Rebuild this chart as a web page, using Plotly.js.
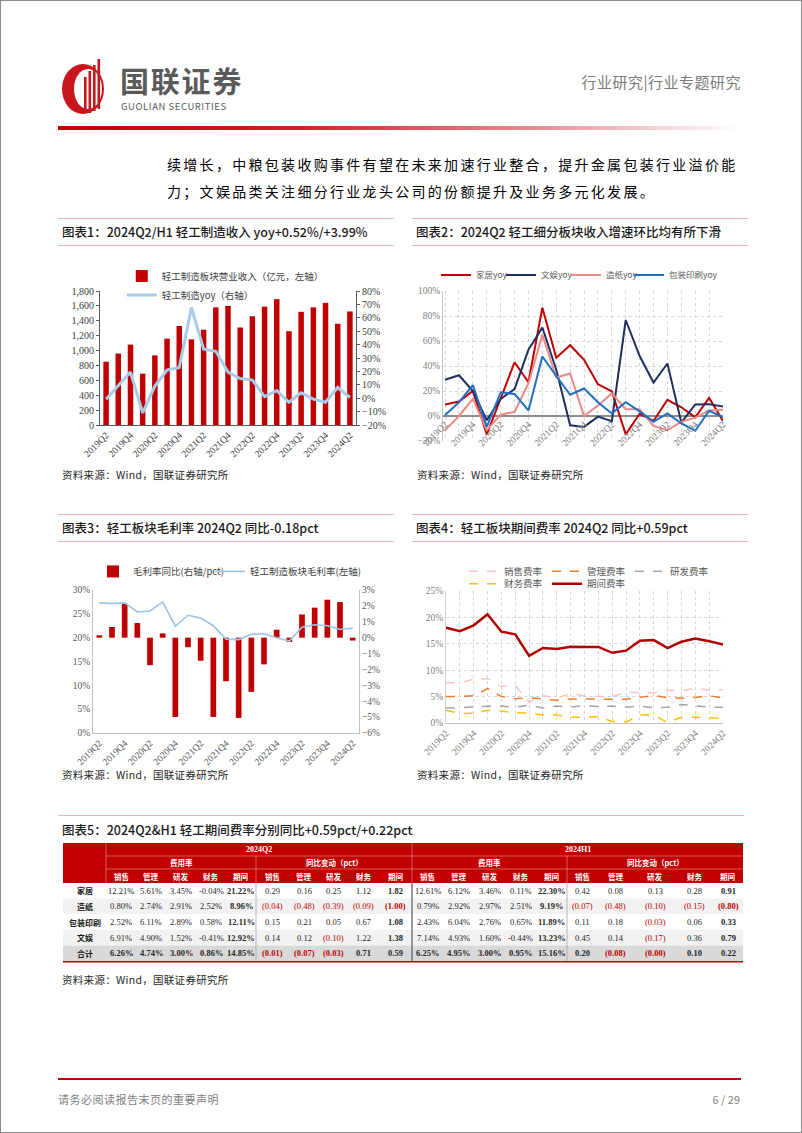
<!DOCTYPE html>
<html><head><meta charset="utf-8">
<script src="https://cdn.plot.ly/plotly-3.0.1.min.js"></script>
<style>
body{margin:0;background:#fff;}
#page{position:relative;width:800px;height:1131px;border:1px solid #8c8c8c;overflow:hidden;font-family:"Noto Sans CJK SC",sans-serif;background:#fff;}
.abs{position:absolute;}
.ctitle{position:absolute;height:26px;line-height:26px;border-top:1.5px solid #E6B3BE;border-bottom:1.5px solid #E6B3BE;font-size:12.5px;font-weight:500;color:#1a1a1a;padding-left:4px;box-sizing:content-box;}
.src{position:absolute;font-size:10.5px;color:#262626;letter-spacing:0.3px;}
</style></head>
<body>
<div id="page">
  <svg class="abs" style="left:56px;top:54px" width="62" height="62" viewBox="0 0 62 62">
    <ellipse cx="26" cy="34" rx="21" ry="25" fill="#C8161D"/>
    <ellipse cx="31" cy="34" rx="14" ry="20" fill="#fff"/>
    <rect x="27" y="22" width="2.6" height="36" fill="#C8161D"/>
    <rect x="31.5" y="16" width="2.6" height="42" fill="#C8161D"/>
    <rect x="36" y="10" width="2.6" height="46" fill="#C8161D"/>
    <rect x="40.5" y="4" width="2.6" height="50" fill="#C8161D"/>
  </svg>
  <div class="abs" style="left:119px;top:65px;font-size:29px;font-weight:700;color:#5a5a5a;letter-spacing:1.8px;line-height:29px;">国联证券</div>
  <div class="abs" style="left:120px;top:100px;font-size:9.5px;line-height:11px;color:#5a5a5a;letter-spacing:0.55px;">GUOLIAN SECURITIES</div>
  <div class="abs" style="right:60px;top:70px;font-size:15px;color:#7a7a7a;letter-spacing:0.5px;">行业研究|行业专题研究</div>
  <div class="abs" style="left:57px;top:125px;width:682px;height:4px;background:linear-gradient(to right,#C00000 0%,#D0202A 35%,#E98C94 70%,#F7DADD 90%,rgba(255,255,255,0) 100%);"></div>
  <div class="abs" style="left:166px;top:150px;font-size:14px;line-height:27px;color:#000;letter-spacing:2.3px;">续增长，中粮包装收购事件有望在未来加速行业整合，提升金属包装行业溢价能<br>力；文娱品类关注细分行业龙头公司的份额提升及业务多元化发展。</div>

  <div class="ctitle" style="left:57px;top:217px;width:332px;">图表1：2024Q2/H1 轻工制造收入 yoy+0.52%/+3.99%</div>
  <div class="ctitle" style="left:411px;top:217px;width:332px;">图表2：2024Q2 轻工细分板块收入增速环比均有所下滑</div>
  <div id="c1" class="abs" style="left:57px;top:249px;"></div>
  <div id="c2" class="abs" style="left:409px;top:249px;"></div>
  <div class="src" style="left:61px;top:466px;">资料来源：Wind，国联证券研究所</div>
  <div class="src" style="left:416px;top:466px;">资料来源：Wind，国联证券研究所</div>

  <div class="ctitle" style="left:57px;top:513px;width:332px;">图表3：轻工板块毛利率 2024Q2 同比-0.18pct</div>
  <div class="ctitle" style="left:411px;top:513px;width:332px;">图表4：轻工板块期间费率 2024Q2 同比+0.59pct</div>
  <div id="c3" class="abs" style="left:57px;top:544px;"></div>
  <div id="c4" class="abs" style="left:409px;top:544px;"></div>
  <div class="src" style="left:61px;top:766px;">资料来源：Wind，国联证券研究所</div>
  <div class="src" style="left:416px;top:766px;">资料来源：Wind，国联证券研究所</div>

  <div class="abs" style="left:57px;top:814px;width:686px;border-top:1.5px solid #E6B3BE;"></div>
  <div class="abs" style="left:61px;top:819px;font-size:12.5px;font-weight:500;color:#1a1a1a;line-height:20px;">图表5：2024Q2&amp;H1 轻工期间费率分别同比+0.59pct/+0.22pct</div>
  <div id="tbl" class="abs" style="left:62px;top:842px;"></div>
  <div class="src" style="left:61px;top:971px;">资料来源：Wind，国联证券研究所</div>

  <div class="abs" style="left:57px;top:1077px;width:683px;height:2px;background:#C00000;"></div>
  <div class="abs" style="left:57px;top:1090px;font-size:11px;color:#7f7f7f;letter-spacing:0.5px;">请务必阅读报告末页的重要声明</div>
  <div class="abs" style="right:61px;top:1090px;font-size:11px;color:#7f7f7f;">6 / 29</div>
</div>
<script>
// ---------- data ----------
const quarters = ['2019Q2','2019Q3','2019Q4','2020Q1','2020Q2','2020Q3','2020Q4','2021Q1','2021Q2','2021Q3','2021Q4','2022Q1','2022Q2','2022Q3','2022Q4','2023Q1','2023Q2','2023Q3','2023Q4','2024Q1','2024Q2'];
// chart 1
const revenue = [850,960,1080,690,935,1160,1330,1150,1280,1580,1600,1310,1460,1590,1690,1260,1520,1580,1640,1360,1525];
const revenueYoy = [-0.7,9,19.5,-11,9,21,23,67.7,36.6,35,19.5,14.7,13.5,1.2,5.7,-3,4,-0.7,-3,8,0.52];
// chart 2
const homeYoy = [9.2,11.6,20,-14.7,14,43,27,86.6,46.6,56.6,45,25.5,19.7,-14.7,1.8,-4,13,7,-1,14.5,-4];
const stationeryYoy = [29,32.6,20,-3.4,13.7,21.6,53,70.8,37,-7.4,-8.7,-0.5,-4.2,76.8,48,26.8,42,-5.3,9.2,9.5,7.6];
const paperYoy = [-11.3,0,13.7,-11.3,1,3.4,26,65,30.8,34,0,8.4,18,5.5,5.5,-8,-11.3,-4.7,-1.3,4.5,5];
const packagingYoy = [0.8,11,24.7,-8.7,19,17.6,4.5,47.6,32,17,22,11,2,11,3.7,-4.7,2,-6,-11.8,4.2,-0.8];
// chart 3
const gmChange = [0.15,0.67,2.14,0.92,-1.73,0.27,-4.99,-0.6,-1.45,-4.99,-2.74,-5.05,-3.41,-1.68,0.5,-0.27,1.46,1.89,2.39,2.24,-0.18];
const grossMargin = [27.3,27.2,27.3,25.4,25.6,27.5,22.4,24.7,24.1,22.5,19.7,19.6,20.7,20.8,20.0,19.3,22.2,22.7,22.5,21.7,22.0];
// chart 4
const salesRate = [7.6,7.6,8.3,8.4,6.9,7.1,3.9,5.2,4.7,5.6,5.1,5.0,5.0,5.8,5.8,5.7,6.2,6.1,6.6,6.2,6.26];
const adminRate = [5.0,5.0,5.15,6.5,5.0,4.6,4.8,4.55,4.3,4.55,4.55,4.6,4.5,4.5,4.9,5.2,4.8,4.7,4.85,5.15,4.74];
const rdRate = [2.85,2.85,3.1,3.2,3.2,3.0,3.4,2.85,3.2,3.0,3.3,3.1,3.2,3.0,3.2,2.9,3.0,3.5,3.2,3.0,3.0];
const finRate = [2.4,1.8,1.85,2.4,2.25,1.95,1.9,1.5,1.5,1.1,1.1,1.2,0.3,0.2,1.5,1.5,0.1,1.1,1.1,1.0,0.86];
const periodRate = [18.07,17.4,18.5,20.6,17.3,16.8,12.7,14.2,14.0,14.45,14.4,14.4,13.3,13.7,15.6,15.7,14.2,15.4,16.0,15.5,14.85];
// table
const tableRows = ['家居','造纸','包装印刷','文娱','合计'];
const expenseItems = ['销售','管理','研发','财务','期间'];
const periods = ['2024Q2','2024H1'];
const blockNames = ['费用率','同比变动（pct）'];
const q2Rate = [[12.21,5.61,3.45,-0.04,21.22],[0.80,2.74,2.91,2.52,8.96],[2.52,6.11,2.89,0.58,12.11],[6.91,4.90,1.52,-0.41,12.92],[6.26,4.74,3.00,0.86,14.85]];
const q2Chg = [[0.29,0.16,0.25,1.12,1.82],[-0.04,-0.48,-0.39,-0.09,-1.00],[0.15,0.21,0.05,0.67,1.08],[0.14,0.12,-0.10,1.22,1.38],[-0.01,-0.07,-0.03,0.71,0.59]];
const h1Rate = [[12.61,6.12,3.46,0.11,22.30],[0.79,2.92,2.97,2.51,9.19],[2.43,6.04,2.76,0.65,11.89],[7.14,4.93,1.60,-0.44,13.23],[6.25,4.95,3.00,0.95,15.16]];
const h1Chg = [[0.42,0.08,0.13,0.28,0.91],[-0.07,-0.48,-0.10,-0.15,-0.80],[0.11,0.18,-0.03,0.06,0.33],[0.45,0.14,-0.17,0.36,0.79],[0.20,-0.08,-0.004,0.10,0.22]];

// ---------- style ----------
const cfg = {staticPlot:true, displayModeBar:false};
const serif = '"Liberation Serif", "Times New Roman", serif';
const cjk = '"Noto Sans CJK SC", sans-serif';
const evenLabels = quarters.map((q,i)=> i%2===0 ? q : '');
const RED = '#C00000';
const base = {paper_bgcolor:'rgba(0,0,0,0)', plot_bgcolor:'rgba(0,0,0,0)'};

// ---------- chart 1 ----------
Plotly.newPlot('c1', [
  {type:'bar', x:quarters, y:revenue, name:'轻工制造板块营业收入（亿元，左轴）', marker:{color:RED}},
  {type:'scatter', mode:'lines', x:quarters, y:revenueYoy, yaxis:'y2', name:'轻工制造yoy（右轴）', line:{color:'#A9CBEA', width:3}}
], Object.assign({}, base, {
  width:342, height:217, margin:{l:42,r:44,t:34,b:42},
  bargap:0.55, showlegend:true,
  xaxis:{type:'category', range:[-0.5,20.5], tickmode:'array', tickvals:quarters, ticktext:evenLabels, tickangle:-45,
    showline:true, linecolor:'#595959', ticks:'', showgrid:false, tickfont:{family:serif,size:9.5,color:'#404040'}},
  yaxis:{range:[0,1800], dtick:200, tickformat:',d', showline:true, linecolor:'#595959', ticks:'outside', ticklen:3, tickcolor:'#595959',
    showgrid:false, zeroline:false, tickfont:{family:serif,size:10,color:'#404040'}},
  yaxis2:{overlaying:'y', side:'right', range:[-20,80], dtick:10, ticksuffix:'%', showline:true, linecolor:'#595959', ticks:'outside', ticklen:3, tickcolor:'#595959',
    showgrid:false, zeroline:false, tickfont:{family:serif,size:10,color:'#404040'}},
  legend:{orientation:'v', x:0.085, xanchor:'left', y:1.22, yanchor:'top', font:{family:cjk,size:9.5,color:'#404040'}, bgcolor:'rgba(0,0,0,0)', itemwidth:30, tracegroupgap:0}
}), cfg);

// ---------- chart 2 ----------
const c2Range = [-20,100];
const c2Legend = {orientation:'h', y:1.1, yanchor:'middle', xanchor:'left', itemwidth:30,
    font:{family:cjk,size:8.5,color:'#595959'}, bgcolor:'rgba(0,0,0,0)'};
Plotly.newPlot('c2', [
  {type:'scatter', mode:'lines', x:quarters, y:homeYoy, name:'家居yoy', legend:'legend', line:{color:'#C00000', width:2}},
  {type:'scatter', mode:'lines', x:quarters, y:stationeryYoy, name:'文娱yoy', legend:'legend3', line:{color:'#1F3060', width:2}},
  {type:'scatter', mode:'lines', x:quarters, y:paperYoy, name:'造纸yoy', legend:'legend4', line:{color:'#EB8A86', width:2}},
  {type:'scatter', mode:'lines', x:quarters, y:packagingYoy, name:'包装印刷yoy', legend:'legend2', line:{color:'#1F6FC5', width:2}}
], Object.assign({}, base, {
  width:342, height:215, margin:{l:33,r:29,t:40,b:24}, showlegend:true,
  xaxis:{type:'category', range:[-0.15,20], tickmode:'array', tickvals:quarters, ticktext:evenLabels, tickangle:-45,
    anchor:'free', position:(0-c2Range[0])/(c2Range[1]-c2Range[0]), showline:false, ticks:'',
    showgrid:true, gridcolor:'#D6D6D6', griddash:'dot', tickfont:{family:serif,size:9.5,color:'#808080'}},
  yaxis:{range:c2Range, dtick:20, ticksuffix:'%', showgrid:true, gridcolor:'#D6D6D6', griddash:'dot',
    zeroline:true, zerolinecolor:'#8C8C8C', zerolinewidth:2, showline:true, linecolor:'#C8C8C8',
    tickfont:{family:serif,size:9.5,color:'#808080'}},
  legend:Object.assign({}, c2Legend, {x:-0.025}),
  legend3:Object.assign({}, c2Legend, {x:0.207}),
  legend4:Object.assign({}, c2Legend, {x:0.439}),
  legend2:Object.assign({}, c2Legend, {x:1.0, xanchor:'right'})
}), cfg);

// ---------- chart 3 ----------
const c3Legend = {orientation:'h', xanchor:'left', y:1.13, yanchor:'middle', itemwidth:30,
    font:{family:cjk,size:9.5,color:'#404040'}, bgcolor:'rgba(0,0,0,0)'};
Plotly.newPlot('c3', [
  {type:'bar', x:quarters, y:gmChange, name:'毛利率同比(右轴/pct)', marker:{color:RED}},
  {type:'scatter', mode:'lines', x:quarters, y:grossMargin, yaxis:'y2', legend:'legend2', name:'轻工制造板块毛利率(左轴)', line:{color:'#9DC3E6', width:1.6}}
], Object.assign({}, base, {
  width:342, height:230, margin:{l:35,r:41,t:32,b:42}, bargap:0.55, showlegend:true,
  xaxis:{type:'category', range:[-0.5,20.5], tickmode:'array', tickvals:quarters, ticktext:evenLabels, tickangle:-45,
    showline:true, linecolor:'#BFBFBF', ticks:'', showgrid:false, tickfont:{family:serif,size:9.5,color:'#595959'}},
  yaxis:{side:'right', range:[-6,3], dtick:1, ticksuffix:'%', showline:true, linecolor:'#BFBFBF', showgrid:false, zeroline:false,
    tickfont:{family:serif,size:9.5,color:'#595959'}},
  yaxis2:{overlaying:'y', side:'left', range:[0,30], dtick:5, ticksuffix:'%', showline:true, linecolor:'#BFBFBF', showgrid:false, zeroline:false,
    tickfont:{family:serif,size:9.5,color:'#595959'}},
  legend:Object.assign({}, c3Legend, {x:0.0}),
  legend2:Object.assign({}, c3Legend, {x:0.44})
}), cfg);

// ---------- chart 4 ----------
Plotly.newPlot('c4', [
  {type:'scatter', mode:'lines', x:quarters, y:salesRate, name:'销售费率', line:{color:'#F6C6C0', width:1.5, dash:'dash'}},
  {type:'scatter', mode:'lines', x:quarters, y:adminRate, name:'管理费率', line:{color:'#ED7D31', width:1.5, dash:'dash'}},
  {type:'scatter', mode:'lines', x:quarters, y:rdRate, name:'研发费率', line:{color:'#A5A5A5', width:1.5, dash:'dash'}},
  {type:'scatter', mode:'lines', x:quarters, y:finRate, name:'财务费率', legend:'legend2', line:{color:'#FFC000', width:1.5, dash:'dash'}},
  {type:'scatter', mode:'lines', x:quarters, y:periodRate, name:'期间费率', legend:'legend2', line:{color:'#B00000', width:2.5}}
], Object.assign({}, base, {
  width:342, height:220, margin:{l:36,r:29,t:38,b:42}, showlegend:true,
  xaxis:{type:'category', range:[0,20], tickmode:'array', tickvals:quarters, ticktext:evenLabels, tickangle:-45,
    showline:true, linecolor:'#BFBFBF', ticks:'', showgrid:true, gridcolor:'#D6D6D6', griddash:'dot',
    tickfont:{family:serif,size:9.5,color:'#808080'}},
  yaxis:{range:[0,25], dtick:5, ticksuffix:'%', showgrid:true, gridcolor:'#D6D6D6', griddash:'dot', zeroline:false,
    showline:true, linecolor:'#D0D0D0', tickfont:{family:serif,size:9.5,color:'#808080'}},
  legend:{orientation:'h', x:0.065, xanchor:'left', y:1.15, yanchor:'middle', entrywidth:38, entrywidthmode:'pixels', itemwidth:30,
    font:{family:cjk,size:9.5,color:'#595959'}, bgcolor:'rgba(0,0,0,0)'},
  legend2:{orientation:'h', x:0.065, xanchor:'left', y:1.055, yanchor:'middle', entrywidth:38, entrywidthmode:'pixels', itemwidth:30,
    font:{family:cjk,size:9.5,color:'#595959'}, bgcolor:'rgba(0,0,0,0)'}
}), cfg);

// ---------- table ----------
(function(){
  const colWidths = [43, 30,30,30,30,30, 33,30,29,31,33, 31,31,31,31,31, 30,37,42,37,30];
  const rowHeights = [13,13,14,15.6,15.6,15.6,15.6,15.6];
  const W = colWidths.reduce((a,b)=>a+b,0);
  const H = 122;
  const xe=[0]; colWidths.forEach(w=>xe.push(xe[xe.length-1]+w));
  const ye=[0]; rowHeights.forEach(h=>ye.push(ye[ye.length-1]+h));
  const xc = i => (xe[i]+xe[i+1])/2;
  const yc = r => (ye[r]+ye[r+1])/2;
  const shapes=[], ann=[];
  const rect=(x0,x1,y0,y1,fill)=>shapes.push({type:'rect',xref:'x',yref:'y',x0,x1,y0,y1,fillcolor:fill,line:{width:0},layer:'below'});
  const line=(x0,x1,y0,y1,color,w)=>shapes.push({type:'line',xref:'x',yref:'y',x0,x1,y0,y1,line:{color,width:w}});
  const text=(x,y,t,font)=>ann.push({x,y,xref:'x',yref:'y',text:t,showarrow:false,xanchor:'center',yanchor:'middle',font});
  // header
  rect(0,W,ye[0],ye[3],RED);
  const hw='rgba(255,255,255,0.45)';
  line(xe[1],W,ye[1],ye[1],hw,0.8); line(xe[1],W,ye[2],ye[2],hw,0.8);
  line(xe[1],xe[1],ye[0],ye[3],hw,0.8); line(xe[11],xe[11],ye[0],ye[3],hw,0.8);
  line(xe[6],xe[6],ye[1],ye[3],hw,0.8); line(xe[16],xe[16],ye[1],ye[3],hw,0.8);
  const hf={family:serif,size:8,color:'#fff'};
  const hfc={family:cjk,size:7.5,color:'#fff'};
  periods.forEach((p,k)=>{
    const a=1+k*10, b=a+10;
    text((xe[a]+xe[b])/2, yc(0), '<b>'+p+'</b>', hf);
    blockNames.forEach((bn,j)=>{
      const s=a+j*5, e=s+5;
      text((xe[s]+xe[e])/2, yc(1), '<b>'+bn+'</b>', hfc);
      expenseItems.forEach((it,m)=> text(xc(s+m), yc(2), '<b>'+it+'</b>', hfc));
    });
  });
  // body
  const bg=['#FFFFFF','#F2F2F2','#FFFFFF','#F2F2F2','#D9D9D9'];
  const blocks=[q2Rate,q2Chg,h1Rate,h1Chg];
  tableRows.forEach((name,r)=>{
    const R=r+3;
    rect(0,W,ye[R],ye[R+1],bg[r]);
    text(xc(0), yc(R), '<b>'+name+'</b>', {family:cjk,size:8,color:'#1a1a1a'});
    const total = r===tableRows.length-1;
    blocks.forEach((blk,b)=>{
      blk[r].forEach((v,m)=>{
        const isRate = b%2===0;
        let s, color='#262626';
        if(isRate){ s=v.toFixed(2)+'%'; }
        else if(v<0){ s='('+Math.abs(v).toFixed(2)+')'; color=RED; }
        else { s=v.toFixed(2); }
        const bold = total || m===4;
        text(xc(1+b*5+m), yc(R), bold?'<b>'+s+'</b>':s, {family:serif,size:8.5,color});
      });
    });
  });
  line(xe[6],xe[6],ye[3],ye[8],'#A6A6A6',0.8);
  line(xe[11],xe[11],ye[3],ye[8],'#595959',1.2);
  line(xe[16],xe[16],ye[3],ye[8],'#A6A6A6',0.8);
  line(0,W,ye[8]+0.8,ye[8]+0.8,RED,1.6);
  Plotly.newPlot('tbl',[{type:'scatter',x:[0],y:[0],mode:'none',showlegend:false,hoverinfo:'skip'}],{
    width:W, height:H, margin:{l:0,r:0,t:0,b:0}, paper_bgcolor:'rgba(0,0,0,0)', plot_bgcolor:'rgba(0,0,0,0)',
    xaxis:{range:[0,W],visible:false,fixedrange:true}, yaxis:{range:[H,0],visible:false,fixedrange:true},
    shapes, annotations:ann, showlegend:false
  }, cfg);
})();
</script>
</body></html>
